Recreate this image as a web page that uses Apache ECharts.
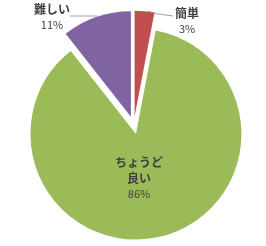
<!DOCTYPE html>
<html>
<head>
<meta charset="utf-8">
<script src="https://cdn.jsdelivr.net/npm/echarts@6/dist/echarts.min.js"></script>
<style>html,body{margin:0;padding:0;background:#fff;}#c{width:266px;height:246px;}</style>
</head>
<body>
<div id="c"></div>
<script>
const categories = ['簡単', 'ちょうど良い', '難しい'];
const values = [3.0, 86.4, 10.6];
const colors = ['#C0504D', '#9BBB59', '#8064A2'];

const FONT = '"Noto Sans CJK JP", "Noto Sans", sans-serif';
const labelSpots = [
  { x: 187, y: 21, line: [[147, 11], [158, 14], [173, 16]] },
  { x: 139, y: 178, line: null },
  { x: 52, y: 17.5, line: [[70, 16], [97, 16]] }
];
const CENTER = [133.8, 125.3];
const RADIUS = 105.5;

const chart = echarts.init(document.getElementById('c'), null, { renderer: 'canvas' });
chart.setOption({
  animation: false,
  series: [{
    type: 'pie',
    center: CENTER,
    radius: RADIUS,
    startAngle: 90,
    clockwise: true,
    selectedMode: 'multiple',
    selectedOffset: 9,
    itemStyle: { borderWidth: 0 },
    select: { itemStyle: { borderWidth: 0 } },
    emphasis: { disabled: true },
    label: { show: false },
    labelLine: { show: false },
    data: categories.map((c, i) => ({
      name: c,
      value: values[i],
      selected: true,
      itemStyle: { color: colors[i] }
    }))
  }, {
    type: 'pie',
    center: CENTER,
    radius: RADIUS,
    startAngle: 90,
    clockwise: true,
    selectedMode: false,
    silent: true,
    percentPrecision: 0,
    avoidLabelOverlap: false,
    itemStyle: { color: 'rgba(0,0,0,0)', borderWidth: 0 },
    emphasis: { disabled: true },
    label: {
      show: true,
      position: 'outside',
      color: '#404040',
      fontFamily: FONT,
      formatter: function (p) {
        const n = p.name.length > 4 ? p.name.slice(0, 4) + '\n' + p.name.slice(4) : p.name;
        return n.split('\n').map(s => '{b|' + s + '}').join('\n') + '\n{p|' + p.percent + '%}';
      },
      rich: {
        b: { fontSize: 12, fontWeight: 'bold', color: '#404040', fontFamily: FONT, lineHeight: 15.5, align: 'center' },
        p: { fontSize: 11, color: '#404040', fontFamily: FONT, lineHeight: 15.5, align: 'center' }
      }
    },
    labelLine: { show: true, lineStyle: { color: '#a0a0a0', width: 1 } },
    labelLayout: function (params) {
      const s = labelSpots[params.dataIndex];
      const r = { x: s.x, y: s.y, align: 'center', verticalAlign: 'middle' };
      if (s.line) r.labelLinePoints = s.line;
      return r;
    },
    data: categories.map((c, i) => ({
      name: c,
      value: values[i],
      labelLine: { show: i !== 1 }
    }))
  }]
});
</script>
</body>
</html>
